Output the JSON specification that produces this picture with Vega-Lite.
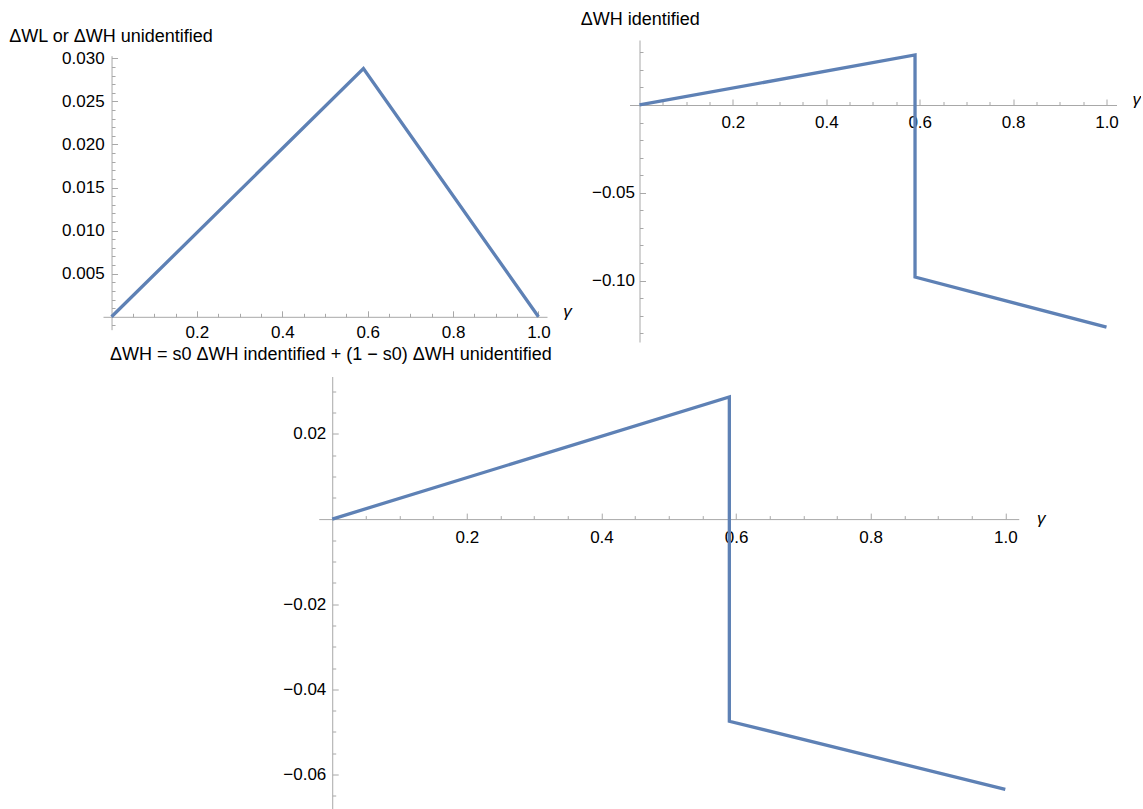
{
  "$schema": "https://vega.github.io/schema/vega-lite/v6.json",
  "padding": {"left": 8, "top": 10, "right": 0, "bottom": 0},
  "background": "white",
  "config": {
    "view": {"stroke": null},
    "font": "Liberation Sans",
    "axis": {"grid": false, "domainColor": "#a8a8a8", "tickColor": "#a8a8a8", "domainWidth": 1, "tickWidth": 1, "labelColor": "#000000", "labelFontSize": 17, "labelFont": "Liberation Sans", "labelOverlap": false, "labelFlush": false, "labelBound": false, "titleFont": "Liberation Sans", "titleColor": "#000000", "titleAlign": "left", "titleAngle": 0, "titleFontWeight": "normal"}
  },
  "concat": [
    {
      "concat": [
        {
          "width": 444,
          "height": 289.7,
          "data": {"values": [
            {"i": 0, "g": 0.0, "v": 0.0},
            {"i": 1, "g": 0.59, "v": 0.0288},
            {"i": 2, "g": 1.0, "v": 0.0}
          ]},
          "mark": {"type": "line", "color": "#5E81B5", "strokeWidth": 3.3, "clip": false},
          "encoding": {
            "order": {"field": "i", "type": "quantitative"},
            "x": {"field": "g", "type": "quantitative", "scale": {"domain": [-0.02, 1.02], "nice": false, "zero": false},
              "axis": {"orient": "bottom", "offset": -12.9, "format": ".1f",
                "values": [0.05, 0.1, 0.15, 0.2, 0.25, 0.3, 0.35, 0.4, 0.45, 0.5, 0.55, 0.6, 0.65, 0.7, 0.75, 0.8, 0.85, 0.9, 0.95, 1.0],
                "labelExpr": "abs(datum.value*5 - round(datum.value*5)) < 1e-6 ? datum.label : ''",
                "tickSize": {"condition": {"test": "abs(datum.value*5 - round(datum.value*5)) < 1e-6", "value": -6}, "value": -3.5},
                "labelPadding": 13.5, "title": "γ", "titleX": 459.8, "titleY": -0.5, "titleBaseline": "alphabetic", "titleFontSize": 17, "titleFontStyle": "italic"}},
            "y": {"field": "v", "type": "quantitative", "scale": {"domain": [-0.0015, 0.032122], "nice": false, "zero": false},
              "axis": {"orient": "left", "offset": -8.54, "format": ".3f", "domainDash": [274, 400],
                "values": [-0.001, 0.001, 0.002, 0.003, 0.004, 0.005, 0.006, 0.007, 0.008, 0.009, 0.01, 0.011, 0.012, 0.013, 0.014, 0.015, 0.016, 0.017, 0.018, 0.019, 0.02, 0.021, 0.022, 0.023, 0.024, 0.025, 0.026, 0.027, 0.028, 0.029, 0.03],
                "labelExpr": "abs(datum.value*200 - round(datum.value*200)) < 1e-6 ? datum.label : ''",
                "tickSize": {"condition": {"test": "abs(datum.value*200 - round(datum.value*200)) < 1e-6", "value": -6}, "value": -3.5},
                "labelPadding": 13.4,
                "title": "ΔWL or ΔWH unidentified", "titleX": -102.7, "titleY": 1.4, "titleBaseline": "alphabetic", "titleFontSize": 18, "titleFontStyle": "normal"}}
          }
        },
        {
          "width": 487,
          "height": 302,
          "data": {"values": [
            {"i": 0, "g": 0.0, "v": 0.0},
            {"i": 1, "g": 0.59, "v": 0.0285},
            {"i": 2, "g": 0.59, "v": -0.098},
            {"i": 3, "g": 1.0, "v": -0.1265}
          ]},
          "mark": {"type": "line", "color": "#5E81B5", "strokeWidth": 3.3, "clip": false},
          "encoding": {
            "order": {"field": "i", "type": "quantitative"},
            "x": {"field": "g", "type": "quantitative", "scale": {"domain": [-0.0214, 1.0214], "nice": false, "zero": false},
              "axis": {"orient": "bottom", "offset": -237, "format": ".1f",
                "values": [0.05, 0.1, 0.15, 0.2, 0.25, 0.3, 0.35, 0.4, 0.45, 0.5, 0.55, 0.6, 0.65, 0.7, 0.75, 0.8, 0.85, 0.9, 0.95, 1.0],
                "labelExpr": "abs(datum.value*5 - round(datum.value*5)) < 1e-6 ? datum.label : ''",
                "tickSize": {"condition": {"test": "abs(datum.value*5 - round(datum.value*5)) < 1e-6", "value": -6}, "value": -3.5},
                "labelPadding": 15.5, "title": "γ", "titleX": 502.4, "titleY": -0.5, "titleBaseline": "alphabetic", "titleFontSize": 17, "titleFontStyle": "italic"}},
            "y": {"field": "v", "type": "quantitative", "scale": {"domain": [-0.135, 0.037], "nice": false, "zero": false},
              "axis": {"orient": "left", "offset": -10, "format": ".2f",
                "values": [-0.13, -0.12, -0.11, -0.1, -0.09, -0.08, -0.07, -0.06, -0.05, -0.04, -0.03, -0.02, -0.01, 0.01, 0.02, 0.03],
                "labelExpr": "abs(datum.value*20 - round(datum.value*20)) < 1e-6 ? datum.label : ''",
                "tickSize": {"condition": {"test": "abs(datum.value*20 - round(datum.value*20)) < 1e-6", "value": -6}, "value": -3.5},
                "labelPadding": 11,
                "title": "ΔWH identified", "titleX": -59.3, "titleY": -15.3, "titleBaseline": "alphabetic", "titleFontSize": 18, "titleFontStyle": "normal"}}
          }
        }
      ],
      "columns": 2,
      "align": "none",
      "spacing": 7.5
    },
    {
      "concat": [
        {
          "width": 1,
          "height": 1,
          "data": {"values": []},
          "mark": {"type": "point", "opacity": 0}
        },
        {
          "width": 700,
          "height": 432,
          "data": {"values": [
            {"i": 0, "g": 0.0, "v": 0.0},
            {"i": 1, "g": 0.59, "v": 0.0287},
            {"i": 2, "g": 0.59, "v": -0.0475},
            {"i": 3, "g": 1.0, "v": -0.0635}
          ]},
          "mark": {"type": "line", "color": "#5E81B5", "strokeWidth": 3.3, "clip": false},
          "encoding": {
            "order": {"field": "i", "type": "quantitative"},
            "x": {"field": "g", "type": "quantitative", "scale": {"domain": [-0.02, 1.02], "nice": false, "zero": false},
              "axis": {"orient": "bottom", "offset": -289.4, "format": ".1f",
                "values": [0.05, 0.1, 0.15, 0.2, 0.25, 0.3, 0.35, 0.4, 0.45, 0.5, 0.55, 0.6, 0.65, 0.7, 0.75, 0.8, 0.85, 0.9, 0.95, 1.0],
                "labelExpr": "abs(datum.value*5 - round(datum.value*5)) < 1e-6 ? datum.label : ''",
                "tickSize": {"condition": {"test": "abs(datum.value*5 - round(datum.value*5)) < 1e-6", "value": -6}, "value": -3.5},
                "labelPadding": 16, "title": "γ", "titleX": 717.8, "titleY": 4.7, "titleBaseline": "alphabetic", "titleFontSize": 17, "titleFontStyle": "italic"}},
            "y": {"field": "v", "type": "quantitative", "scale": {"domain": [-0.068, 0.0335], "nice": false, "zero": false},
              "axis": {"orient": "left", "offset": -13.46, "format": ".2f",
                "values": [-0.065, -0.06, -0.055, -0.05, -0.045, -0.04, -0.035, -0.03, -0.025, -0.02, -0.015, -0.01, -0.005, 0.005, 0.01, 0.015, 0.02, 0.025, 0.03],
                "labelExpr": "abs(datum.value*50 - round(datum.value*50)) < 1e-6 ? datum.label : ''",
                "tickSize": {"condition": {"test": "abs(datum.value*50 - round(datum.value*50)) < 1e-6", "value": -6}, "value": -3.5},
                "labelPadding": 12.4,
                "title": "ΔWH = s0 ΔWH indentified + (1 − s0) ΔWH unidentified", "titleX": -222.7, "titleY": -16.7, "titleBaseline": "alphabetic", "titleFontSize": 18, "titleFontStyle": "normal"}}
          }
        }
      ],
      "columns": 2,
      "align": "none",
      "spacing": 4.76
    }
  ],
  "columns": 1,
  "align": "none",
  "spacing": 2.5
}
